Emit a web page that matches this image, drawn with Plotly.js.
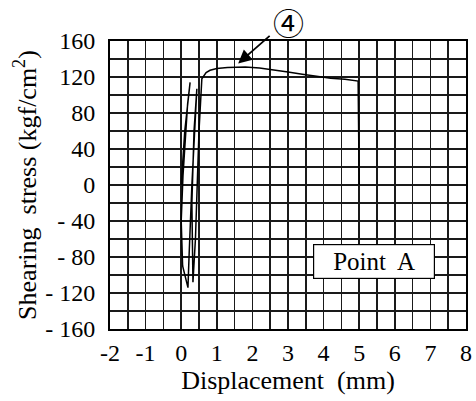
<!DOCTYPE html>
<html>
<head>
<meta charset="utf-8">
<script src="https://cdn.plot.ly/plotly-3.0.1.min.js"></script>
<style>html,body{margin:0;padding:0;background:#fff}#chart{width:476px;height:401px}</style>
</head>
<body>
<div id="chart"></div>
<script>
// Displacement (mm) and shearing stress (kgf/cm^2)
const displacement = [0, 0.1, 0.25, 0.18, 0.05, 0.0, 0.04, 0.19, 0.22, 0.3, 0.44, 0.36, 0.3, 0.33, 0.4, 0.5, 0.58, 0.7, 0.81, 1.0, 1.3, 1.8, 2.2, 2.6, 3.0, 3.4, 3.8, 4.2, 4.6, 4.97, 5.0];
const stress =       [0, 60, 114, 90, 10, -40, -90, -114, -80, 0, 107, 60, -20, -108, -60, 60, 118, 125, 127.5, 129.5, 130.5, 131, 130, 128, 125.5, 123, 120.5, 118.5, 117.5, 115.5, 0];
const xTickVals = [-2, -1, 0, 1, 2, 3, 4, 5, 6, 7, 8];
const xTickText = ["-2", "-1", "0", "1", "2", "3", "4", "5", "6", "7", "8"];
const yTickVals = [-160, -120, -80, -40, 0, 40, 80, 120, 160];
const yTickText = ["- 160", "- 120", "- 80", "- 40", "0", "40", "80", "120", "160"];

const serif = "Liberation Serif, Times New Roman, serif";
const tickFont = {family: serif, size: 24, color: "#000"};
const titleFont = {family: serif, size: 26, color: "#000"};
const boxFont = {family: serif, size: 25, color: "#000"};
const gridCol = "#1a1a1a";

Plotly.newPlot("chart", [{
  x: displacement, y: stress, type: "scatter", mode: "lines",
  line: {color: "#000", width: 1.5}, hoverinfo: "skip"
}], {
  width: 476, height: 401,
  margin: {l: 110, r: 10, t: 41, b: 72},
  paper_bgcolor: "#fff", plot_bgcolor: "#fff",
  font: tickFont,
  showlegend: false,
  xaxis: {
    range: [-2, 8], tickmode: "array", tickvals: xTickVals, ticktext: xTickText,
    showgrid: true, gridcolor: gridCol, gridwidth: 1.6, zeroline: false,
    showline: true, linecolor: "#000", linewidth: 2, mirror: true, ticks: "",
    minor: {dtick: 0.5, tick0: 0, showgrid: true, gridcolor: gridCol, gridwidth: 1.6},
    tickfont: tickFont, fixedrange: true, ticklabelstandoff: 1,
    title: {text: "Displacement  (mm)", font: titleFont, standoff: 4}
  },
  yaxis: {
    range: [-160, 160], tickmode: "array", tickvals: yTickVals, ticktext: yTickText,
    showgrid: true, gridcolor: gridCol, gridwidth: 1.6, zeroline: false,
    showline: true, linecolor: "#000", linewidth: 2, mirror: true, ticks: "",
    minor: {dtick: 20, tick0: 0, showgrid: true, gridcolor: gridCol, gridwidth: 1.6},
    tickfont: tickFont, fixedrange: true, ticklabelstandoff: 8,
    title: {text: "Shearing  stress (kgf/cm<sup>2</sup>)", font: titleFont, standoff: 1}
  },
  annotations: [
    {x: 1.6, y: 135, xref: "x", yref: "y", text: "", showarrow: true,
     arrowhead: 2, arrowsize: 1.5, arrowwidth: 1.8, arrowcolor: "#000", ax: 33, ay: -29},
    {x: 0.5, y: 1.066, xref: "paper", yref: "paper", text: "\u2463", showarrow: false,
     xanchor: "center", yanchor: "middle",
     font: {family: "Noto Sans CJK JP, DejaVu Sans, serif", size: 31, color: "#000"}},
    {x: 5.42, y: -84.5, xref: "x", yref: "y", text: "Point  A", showarrow: false,
     font: boxFont, bgcolor: "#fff", bordercolor: "#000", borderwidth: 1.2, borderpad: 3, width: 114, height: 27}
  ]
}, {staticPlot: true});
</script>
</body>
</html>
